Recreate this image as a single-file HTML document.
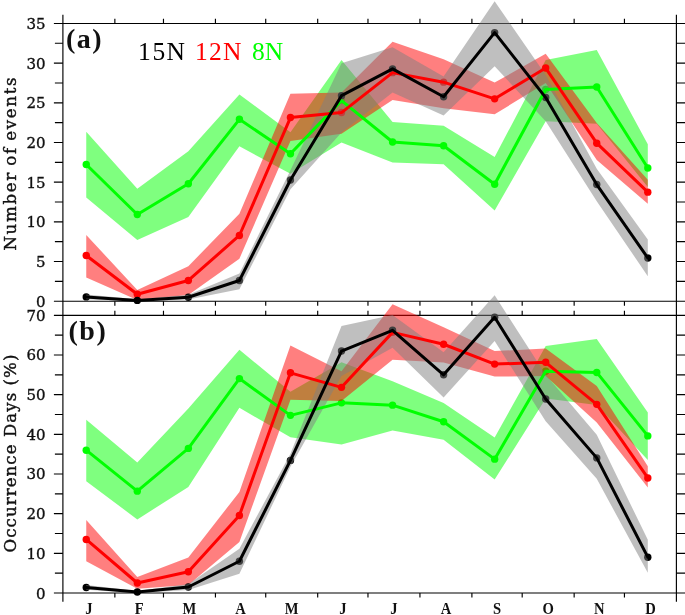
<!DOCTYPE html>
<html lang="en"><head><meta charset="utf-8"><title>Monthly events</title>
<style>
html,body{margin:0;padding:0;background:#fff}
body{width:685px;height:615px;overflow:hidden;position:relative}
svg{position:absolute;left:0;top:0;display:block;will-change:transform}
.tk{font-family:"DejaVu Serif","Liberation Serif",serif;font-size:15px;fill:#111;stroke:#111;stroke-width:0.35px}
.yt{font-family:"DejaVu Serif","Liberation Serif",serif;font-size:16.6px;fill:#111;stroke:#111;stroke-width:0.4px}
.mo{font-family:"Liberation Serif",serif;font-weight:bold;font-size:17px;fill:#111}
.pl{font-family:"Liberation Serif",serif;font-weight:bold;font-size:28px;letter-spacing:1.5px;fill:#111}
.lg{font-family:"Liberation Serif",serif;font-size:25.5px}
</style></head><body>
<svg width="685" height="615" viewBox="0 0 685 615">
<rect width="685" height="615" fill="#fff"/>
<g stroke="#000" stroke-width="1.15" fill="none">
<path d="M62.9 14.65 V601.8 M676.4 14.65 V601.8"/>
<path d="M53.9 23.45 H685"/>
<path d="M53.9 301.2 H685"/>
<path d="M53.9 315.3 H685"/>
<path d="M53.9 593 H685"/>
<path d="M114.86 23.45 v-4.6 M114.86 301.2 v4.6 M114.86 315.3 v-4.6 M114.86 593 v4.6 M163.47 23.45 v-4.6 M163.47 301.2 v4.6 M163.47 315.3 v-4.6 M163.47 593 v4.6 M215.44 23.45 v-4.6 M215.44 301.2 v4.6 M215.44 315.3 v-4.6 M215.44 593 v4.6 M265.72 23.45 v-4.6 M265.72 301.2 v4.6 M265.72 315.3 v-4.6 M265.72 593 v4.6 M317.69 23.45 v-4.6 M317.69 301.2 v4.6 M317.69 315.3 v-4.6 M317.69 593 v4.6 M367.97 23.45 v-4.6 M367.97 301.2 v4.6 M367.97 315.3 v-4.6 M367.97 593 v4.6 M419.94 23.45 v-4.6 M419.94 301.2 v4.6 M419.94 315.3 v-4.6 M419.94 593 v4.6 M471.9 23.45 v-4.6 M471.9 301.2 v4.6 M471.9 315.3 v-4.6 M471.9 593 v4.6 M522.19 23.45 v-4.6 M522.19 301.2 v4.6 M522.19 315.3 v-4.6 M522.19 593 v4.6 M574.15 23.45 v-4.6 M574.15 301.2 v4.6 M574.15 315.3 v-4.6 M574.15 593 v4.6 M624.44 23.45 v-4.6 M624.44 301.2 v4.6 M624.44 315.3 v-4.6 M624.44 593 v4.6"/>
<path d="M62.9 281.36 h-8 M676.4 281.36 H685 M62.9 261.52 h-9 M676.4 261.52 H685 M62.9 241.68 h-8 M676.4 241.68 H685 M62.9 221.84 h-9 M676.4 221.84 H685 M62.9 202 h-8 M676.4 202 H685 M62.9 182.16 h-9 M676.4 182.16 H685 M62.9 162.32 h-8 M676.4 162.32 H685 M62.9 142.49 h-9 M676.4 142.49 H685 M62.9 122.65 h-8 M676.4 122.65 H685 M62.9 102.81 h-9 M676.4 102.81 H685 M62.9 82.97 h-8 M676.4 82.97 H685 M62.9 63.13 h-9 M676.4 63.13 H685 M62.9 43.29 h-8 M676.4 43.29 H685 M62.9 573.16 h-8 M676.4 573.16 H685 M62.9 553.33 h-9 M676.4 553.33 H685 M62.9 533.49 h-8 M676.4 533.49 H685 M62.9 513.66 h-9 M676.4 513.66 H685 M62.9 493.82 h-8 M676.4 493.82 H685 M62.9 473.99 h-9 M676.4 473.99 H685 M62.9 454.15 h-8 M676.4 454.15 H685 M62.9 434.31 h-9 M676.4 434.31 H685 M62.9 414.48 h-8 M676.4 414.48 H685 M62.9 394.64 h-9 M676.4 394.64 H685 M62.9 374.81 h-8 M676.4 374.81 H685 M62.9 354.97 h-9 M676.4 354.97 H685 M62.9 335.14 h-8 M676.4 335.14 H685"/>
</g>
<g class="tk" text-anchor="end">
<text x="45.6" y="306.7">0</text>
<text x="45.6" y="267.02">5</text>
<text x="45.6" y="227.34">10</text>
<text x="45.6" y="187.66">15</text>
<text x="45.6" y="147.99">20</text>
<text x="45.6" y="108.31">25</text>
<text x="45.6" y="68.63">30</text>
<text x="45.6" y="28.95">35</text>
<text x="45.6" y="598.5">0</text>
<text x="45.6" y="558.83">10</text>
<text x="45.6" y="519.16">20</text>
<text x="45.6" y="479.49">30</text>
<text x="45.6" y="439.81">40</text>
<text x="45.6" y="400.14">50</text>
<text x="45.6" y="360.47">60</text>
<text x="45.6" y="320.8">70</text>
</g>
<g class="mo" text-anchor="middle">
<text transform="translate(88.88 614) scale(0.86 1)">J</text>
<text transform="translate(139.17 614) scale(0.86 1)">F</text>
<text transform="translate(189.46 614) scale(0.86 1)">M</text>
<text transform="translate(240.58 614) scale(0.86 1)">A</text>
<text transform="translate(291.71 614) scale(0.86 1)">M</text>
<text transform="translate(342.83 614) scale(0.86 1)">J</text>
<text transform="translate(393.96 614) scale(0.86 1)">J</text>
<text transform="translate(445.92 614) scale(0.86 1)">A</text>
<text transform="translate(497.04 614) scale(0.86 1)">S</text>
<text transform="translate(548.17 614) scale(0.86 1)">O</text>
<text transform="translate(599.29 614) scale(0.86 1)">N</text>
<text transform="translate(650.42 614) scale(0.86 1)">D</text>
</g>
<text class="yt" text-anchor="middle" letter-spacing="1.68" word-spacing="-1.5" transform="translate(15.5 163.2) rotate(-90)">Number of events</text>
<text class="yt" text-anchor="middle" letter-spacing="1.06" word-spacing="0" transform="translate(15.5 453) rotate(-90)">Occurrence Days (%)</text>
<g fill="#00ff00"><circle cx="86.25" cy="164.55" r="3.7"/><circle cx="137.3" cy="214.46" r="3.7"/><circle cx="188.35" cy="183.75" r="3.7"/><circle cx="239.4" cy="119.31" r="3.7"/><circle cx="290.45" cy="153.75" r="3.7"/><circle cx="341.5" cy="100.59" r="3.7"/><circle cx="392.55" cy="142.01" r="3.7"/><circle cx="443.6" cy="145.82" r="3.7"/><circle cx="494.65" cy="184.23" r="3.7"/><circle cx="545.7" cy="89.55" r="3.7"/><circle cx="596.75" cy="86.94" r="3.7"/><circle cx="647.8" cy="168.04" r="3.7"/></g>
<polygon points="86.25,131.77 137.3,188.75 188.35,151.22 239.4,94.55 290.45,132.17 341.5,59.95 392.55,122.09 443.6,125.82 494.65,157.01 545.7,60.11 596.75,50.11 647.8,144.31 647.8,187.08 596.75,123.84 545.7,121.3 494.65,210.49 443.6,164.31 392.55,162.56 341.5,142.49 290.45,173.75 239.4,146.29 188.35,217.08 137.3,240.02 86.25,197.48" fill="rgba(0,255,0,0.5)"/>
<g fill="#ff0000"><circle cx="86.25" cy="255.49" r="3.7"/><circle cx="137.3" cy="294.22" r="3.7"/><circle cx="188.35" cy="280.49" r="3.7"/><circle cx="239.4" cy="235.49" r="3.7"/><circle cx="290.45" cy="117.57" r="3.7"/><circle cx="341.5" cy="112.57" r="3.7"/><circle cx="392.55" cy="72.65" r="3.7"/><circle cx="443.6" cy="82.17" r="3.7"/><circle cx="494.65" cy="98.84" r="3.7"/><circle cx="545.7" cy="68.05" r="3.7"/><circle cx="596.75" cy="143.2" r="3.7"/><circle cx="647.8" cy="192.16" r="3.7"/></g>
<polygon points="86.25,235.02 137.3,289.93 188.35,266.2 239.4,213.75 290.45,93.84 341.5,92.49 392.55,41.7 443.6,59.16 494.65,82.57 545.7,53.84 596.75,122.88 647.8,179.78 647.8,203.75 596.75,160.02 545.7,82.97 494.65,114.31 443.6,108.36 392.55,100.03 341.5,133.76 290.45,140.9 239.4,258.74 188.35,294.93 137.3,299.93 86.25,277.47" fill="rgba(255,0,0,0.5)"/>
<g fill="#000"><circle cx="86.25" cy="296.91" r="3.7"/><circle cx="137.3" cy="300.41" r="3.7"/><circle cx="188.35" cy="297.23" r="3.7"/><circle cx="239.4" cy="280.49" r="3.7"/><circle cx="290.45" cy="180.02" r="3.7"/><circle cx="341.5" cy="95.66" r="3.7"/><circle cx="392.55" cy="68.84" r="3.7"/><circle cx="443.6" cy="96.78" r="3.7"/><circle cx="494.65" cy="32.58" r="3.7"/><circle cx="545.7" cy="97.57" r="3.7"/><circle cx="596.75" cy="184.55" r="3.7"/><circle cx="647.8" cy="257.95" r="3.7"/></g>
<polygon points="86.25,294.45 137.3,299.22 188.35,294.85 239.4,273.43 290.45,170.26 341.5,63.37 392.55,47.26 443.6,76.62 494.65,1.23 545.7,75.03 596.75,168.75 647.8,239.46 647.8,276.2 596.75,201.21 545.7,121.3 494.65,66.3 443.6,115.5 392.55,92.49 341.5,132.57 290.45,189.31 239.4,289.3 188.35,299.61 137.3,301.2 86.25,299.22" fill="rgba(128,128,128,0.5)"/>
<g fill="#00ff00"><circle cx="86.25" cy="450.18" r="3.7"/><circle cx="137.3" cy="491.16" r="3.7"/><circle cx="188.35" cy="448.4" r="3.7"/><circle cx="239.4" cy="378.58" r="3.7"/><circle cx="290.45" cy="415.35" r="3.7"/><circle cx="341.5" cy="402.85" r="3.7"/><circle cx="392.55" cy="405.16" r="3.7"/><circle cx="443.6" cy="421.74" r="3.7"/><circle cx="494.65" cy="459.15" r="3.7"/><circle cx="545.7" cy="371.24" r="3.7"/><circle cx="596.75" cy="372.43" r="3.7"/><circle cx="647.8" cy="435.9" r="3.7"/></g>
<polygon points="86.25,419.87 137.3,462.4 188.35,408.61 239.4,349.81 290.45,391.87 341.5,362.31 392.55,381.15 443.6,402.97 494.65,437.49 545.7,346.05 596.75,339.1 647.8,412.5 647.8,459.9 596.75,404.96 545.7,398.61 494.65,479.54 443.6,439.87 392.55,430.55 341.5,444.39 290.45,437.37 239.4,407.85 188.35,486.92 137.3,519.45 86.25,481.17" fill="rgba(0,255,0,0.5)"/>
<g fill="#ff0000"><circle cx="86.25" cy="539.44" r="3.7"/><circle cx="137.3" cy="583" r="3.7"/><circle cx="188.35" cy="571.74" r="3.7"/><circle cx="239.4" cy="515.44" r="3.7"/><circle cx="290.45" cy="372.82" r="3.7"/><circle cx="341.5" cy="387.34" r="3.7"/><circle cx="392.55" cy="332.36" r="3.7"/><circle cx="443.6" cy="344.26" r="3.7"/><circle cx="494.65" cy="364.1" r="3.7"/><circle cx="545.7" cy="362.31" r="3.7"/><circle cx="596.75" cy="404.36" r="3.7"/><circle cx="647.8" cy="477.95" r="3.7"/></g>
<polygon points="86.25,519.93 137.3,576.97 188.35,557.45 239.4,491.92 290.45,345.57 341.5,371.24 392.55,304.19 443.6,327.2 494.65,351 545.7,348.62 596.75,386.11 647.8,466.13 647.8,487.47 596.75,422.41 545.7,376 494.65,376.59 443.6,362.51 392.55,359.73 341.5,400.99 290.45,399.84 239.4,541.94 188.35,584.99 137.3,588.76 86.25,561.26" fill="rgba(255,0,0,0.5)"/>
<g fill="#000"><circle cx="86.25" cy="587.49" r="3.7"/><circle cx="137.3" cy="592.01" r="3.7"/><circle cx="188.35" cy="587.01" r="3.7"/><circle cx="239.4" cy="561.22" r="3.7"/><circle cx="290.45" cy="460.38" r="3.7"/><circle cx="341.5" cy="351.04" r="3.7"/><circle cx="392.55" cy="330.3" r="3.7"/><circle cx="443.6" cy="374.81" r="3.7"/><circle cx="494.65" cy="317.28" r="3.7"/><circle cx="545.7" cy="399.01" r="3.7"/><circle cx="596.75" cy="457.88" r="3.7"/><circle cx="647.8" cy="557.18" r="3.7"/></g>
<polygon points="86.25,585.07 137.3,591.02 188.35,583.88 239.4,548.73 290.45,453.75 341.5,326.01 392.55,314.9 443.6,352.19 494.65,295.27 545.7,374.81 596.75,434.87 647.8,539.84 647.8,572.77 596.75,478.75 545.7,421.22 494.65,341.09 443.6,397.62 392.55,347.83 341.5,376 290.45,466.84 239.4,573.72 188.35,589.98 137.3,593 86.25,589.83" fill="rgba(128,128,128,0.5)"/>
<polyline points="86.25,164.55 137.3,214.46 188.35,183.75 239.4,119.31 290.45,153.75 341.5,100.59 392.55,142.01 443.6,145.82 494.65,184.23 545.7,89.55 596.75,86.94 647.8,168.04" fill="none" stroke="#00ff00" stroke-width="3.0" stroke-linejoin="round" stroke-linecap="round"/>
<polyline points="86.25,255.49 137.3,294.22 188.35,280.49 239.4,235.49 290.45,117.57 341.5,112.57 392.55,72.65 443.6,82.17 494.65,98.84 545.7,68.05 596.75,143.2 647.8,192.16" fill="none" stroke="#ff0000" stroke-width="3.0" stroke-linejoin="round" stroke-linecap="round"/>
<polyline points="86.25,296.91 137.3,300.41 188.35,297.23 239.4,280.49 290.45,180.02 341.5,95.66 392.55,68.84 443.6,96.78 494.65,32.58 545.7,97.57 596.75,184.55 647.8,257.95" fill="none" stroke="#000" stroke-width="3.0" stroke-linejoin="round" stroke-linecap="round"/>
<polyline points="86.25,450.18 137.3,491.16 188.35,448.4 239.4,378.58 290.45,415.35 341.5,402.85 392.55,405.16 443.6,421.74 494.65,459.15 545.7,371.24 596.75,372.43 647.8,435.9" fill="none" stroke="#00ff00" stroke-width="3.0" stroke-linejoin="round" stroke-linecap="round"/>
<polyline points="86.25,539.44 137.3,583 188.35,571.74 239.4,515.44 290.45,372.82 341.5,387.34 392.55,332.36 443.6,344.26 494.65,364.1 545.7,362.31 596.75,404.36 647.8,477.95" fill="none" stroke="#ff0000" stroke-width="3.0" stroke-linejoin="round" stroke-linecap="round"/>
<polyline points="86.25,587.49 137.3,592.01 188.35,587.01 239.4,561.22 290.45,460.38 341.5,351.04 392.55,330.3 443.6,374.81 494.65,317.28 545.7,399.01 596.75,457.88 647.8,557.18" fill="none" stroke="#000" stroke-width="3.0" stroke-linejoin="round" stroke-linecap="round"/>
<text class="pl" x="66" y="47.6">(a)</text>
<text class="pl" x="68.5" y="340.2">(b)</text>
<text class="lg" x="137.9 152.4 166.5" y="59.7" fill="#000">15N</text>
<text class="lg" x="194.9 209 222.9" y="59.7" fill="#ff0000">12N</text>
<text class="lg" x="252 264.7" y="59.7" fill="#00ff00">8N</text>
</svg></body></html>
